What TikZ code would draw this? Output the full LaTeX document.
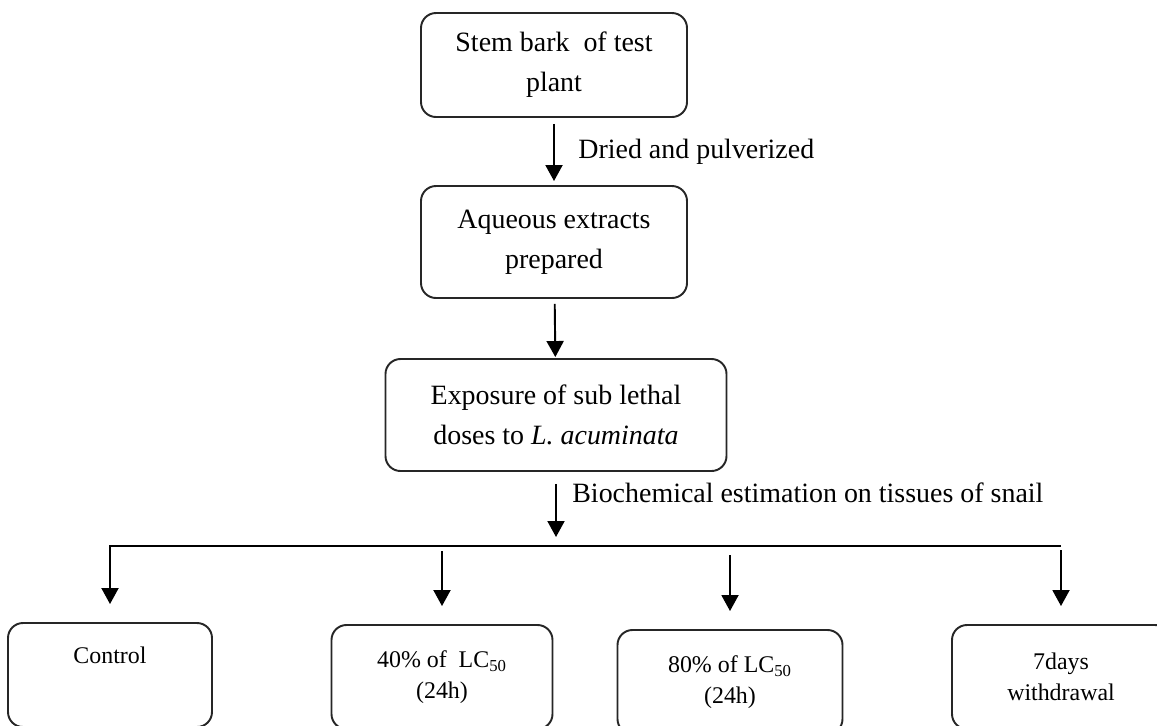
\documentclass[tikz,border=0pt]{standalone}
\usepackage{fontspec}
\setmainfont{Liberation Serif}
\usetikzlibrary{arrows.meta}

\begin{document}
\begin{tikzpicture}[x=0.2mm,y=-0.2mm,>={Triangle[length=3.2mm,width=3.4mm]},
  every node/.style={font=\fontsize{15.9}{22.7}\selectfont},
  flowbox/.style={draw=black!85,line width=1.1pt,rounded corners=3mm,align=center,inner sep=0pt},
  endbox/.style={flowbox,font=\fontsize{13.6}{17.6}\selectfont,minimum height=20.8mm},
  link/.style={->,line width=1.1pt,shorten <=1mm,shorten >=0.8mm}]
  \clip (0,0) rectangle (1157,725);
  \node[flowbox,minimum width=53.2mm,minimum height=20.8mm] (stem) at (554,65) {Stem bark~ of test\\plant};
  \node[flowbox,minimum width=53.2mm,minimum height=22.4mm] (aq) at (554,242) {Aqueous extracts\\prepared};
  \node[flowbox,minimum width=68.2mm,minimum height=22.4mm] (expo) at (556,415) {Exposure of sub lethal\\doses to \textit{L. acuminata}};
  \node[endbox,minimum width=40.8mm] (control) at (110,675) {Control\\\strut};
  \node[endbox,minimum width=44.2mm] (forty) at (442,677) {40\% of~ LC\textsubscript{50}\\(24h)};
  \node[endbox,minimum width=45mm] (eighty) at (730,682) {80\% of LC\textsubscript{50}\\(24h)};
  \node[endbox,minimum width=43.6mm] (seven) at (1061,677) {7days\\withdrawal};
  \coordinate (bar) at (556,546);
  \draw[link,shorten <=1.2mm] (stem) -- (aq);
  \draw[link,shorten >=0.2mm] (aq) -- (expo);
  \draw[link,shorten <=2.4mm,shorten >=1.8mm] (expo) -- (bar);
  \node[anchor=west,inner sep=0pt] (dried) at (578,152) {Dried and pulverized};
  \node[anchor=west,inner sep=0pt] (bio) at (572,493) {Biochemical estimation on tissues of snail};
  \draw[link,shorten <=0pt,shorten >=3.6mm] (seven.north |- bar) -| (control.north);
  \foreach \b/\g in {forty/1mm,eighty/1.8mm,seven/0.8mm}
    \draw[link,shorten <=\g,shorten >=3.6mm] (\b.north |- bar) -- (\b.north);
\end{tikzpicture}
\end{document}
